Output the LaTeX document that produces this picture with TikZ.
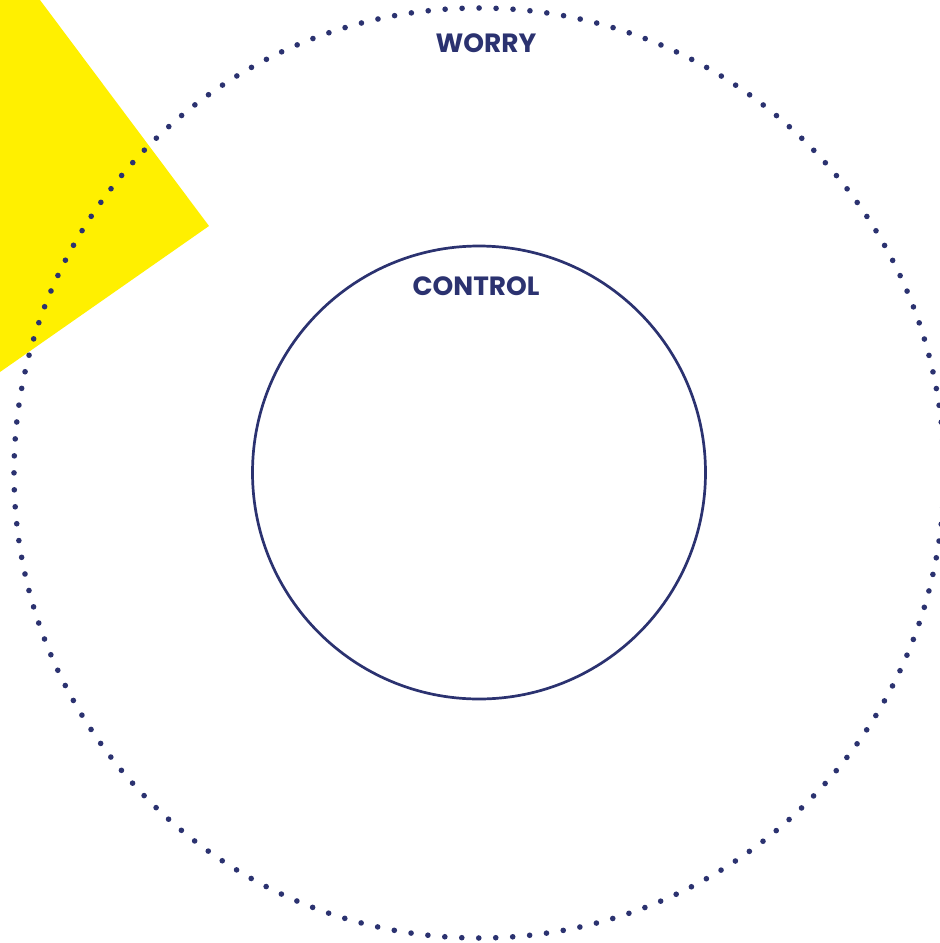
\documentclass[tikz,border=0pt]{standalone}
\usepackage{fontspec}
\setmainfont{Poppins}
\definecolor{navy}{HTML}{2B3270}
\definecolor{yel}{HTML}{FFF000}
\tikzset{
  lbl/.style={text=navy, font=\fontsize{26.4}{30}\selectfont\bfseries, inner sep=0pt},
  outerring/.style={draw=navy, line width=5.6pt, line cap=round, dash pattern=on 0pt off 16.987pt},
  innerring/.style={draw=navy, line width=2.7pt}
}
\begin{document}
\begin{tikzpicture}[x=1pt,y=-1pt]
\useasboundingbox (0,0) rectangle (940,943);
\clip (0,0) rectangle (940,943);
\fill[white] (0,0) rectangle (940,943);
\fill[yel] (0,0) -- (40,0) -- (209,226) -- (0,372) -- cycle;
\coordinate (c) at (479,473);
\draw[outerring] (c) circle[radius=465pt];
\draw[innerring] (479,472.5) circle[radius=226.5pt];
\node[lbl] (worry) at (486,43.5) {WORRY};
\node[lbl] (control) at (476,286) {CONTROL};
\end{tikzpicture}
\end{document}
